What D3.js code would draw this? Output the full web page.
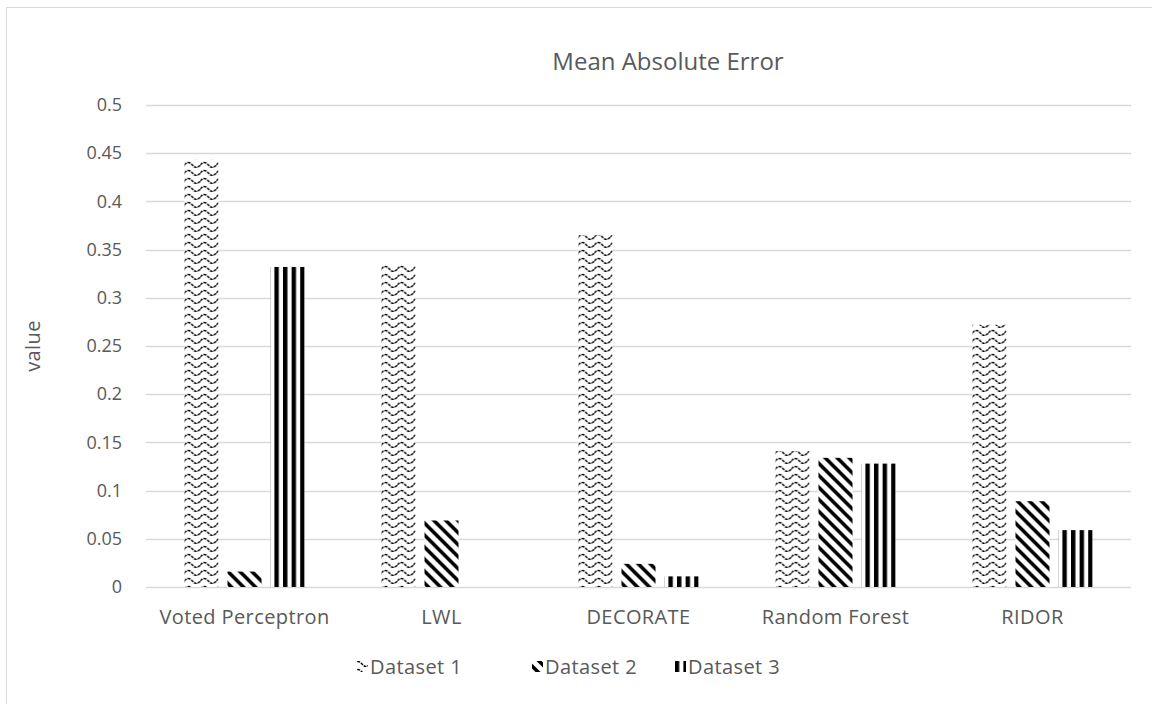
<!DOCTYPE html>
<meta charset="utf-8">
<style>
  body { margin: 0; background: #fff; }
  text { font-family: "Open Sans", Lato, sans-serif; fill: #595959; }
</style>
<svg id="chart" width="1152" height="704"></svg>
<script src="https://cdn.jsdelivr.net/npm/d3@7/dist/d3.min.js"></script>
<script>

var categories = ["Voted Perceptron", "LWL", "DECORATE", "Random Forest", "RIDOR"];
var seriesNames = ["Dataset 1", "Dataset 2", "Dataset 3"];
var dataset1 = [0.443, 0.335, 0.365, 0.141, 0.272];
var dataset2 = [0.016, 0.069, 0.024, 0.134, 0.089];
var dataset3 = [0.332, 0, 0.011, 0.128, 0.059];
var yTicks = [0, 0.05, 0.1, 0.15, 0.2, 0.25, 0.3, 0.35, 0.4, 0.45, 0.5];

var values = [dataset1, dataset2, dataset3];
var rows = categories.map(function(c, i) {
  return { cat: c, vals: seriesNames.map(function(s, j) { return { key: s, idx: j, v: values[j][i] }; }) };
});

var svg = d3.select("#chart");

// outer frame (only top/left visible)
svg.append("path")
    .attr("d", "M6.5,704 L6.5,7.5 L1152,7.5")
    .attr("fill", "none")
    .attr("stroke", "#d9d9d9")
    .attr("stroke-width", 1);

// patterns
var defs = svg.append("defs");
var p1 = defs.append("pattern").attr("id", "pat0")
    .attr("patternUnits", "userSpaceOnUse").attr("width", 16).attr("height", 8);
p1.append("rect").attr("width", 16).attr("height", 8).attr("fill", "#fff");
p1.append("path").attr("d", "M0,5 Q4,0 8,5 T16,5")
    .attr("fill", "none").attr("stroke", "#000").attr("stroke-width", 1.4)
    .attr("stroke-dasharray", "3,1");

var p2 = defs.append("pattern").attr("id", "pat1")
    .attr("patternUnits", "userSpaceOnUse").attr("width", 12).attr("height", 12);
p2.append("rect").attr("width", 12).attr("height", 12).attr("fill", "#fff");
p2.append("path").attr("d", "M-3,-3 L15,15 M-3,9 L3,15 M9,-3 L15,3")
    .attr("stroke", "#000").attr("stroke-width", 3.6);

var p3 = defs.append("pattern").attr("id", "pat2")
    .attr("patternUnits", "userSpaceOnUse").attr("width", 8.6).attr("height", 8)
    .attr("x", 4);
p3.append("rect").attr("width", 8.6).attr("height", 8).attr("fill", "#fff");
p3.append("rect").attr("x", 0).attr("width", 4.4).attr("height", 8).attr("fill", "#000");

var plotL = 146, plotR = 1131, plotT = 105, plotB = 587;

var x0 = d3.scaleBand().domain(categories).range([plotL, plotR])
    .paddingInner(0.39).paddingOuter(0.195);
var x1 = d3.scaleBand().domain(seriesNames).range([0, x0.bandwidth()]).paddingInner(0.21);
var y = d3.scaleLinear().domain([0, 0.5]).range([plotB, plotT]);

// gridlines
svg.append("g").selectAll("line").data(yTicks).enter().append("line")
    .attr("x1", plotL).attr("x2", plotR)
    .attr("y1", function(d) { return Math.round(y(d)) + 0.5; })
    .attr("y2", function(d) { return Math.round(y(d)) + 0.5; })
    .attr("stroke", "#d9d9d9").attr("stroke-width", 1.3);

// y axis labels
var yAxis = d3.axisLeft(y).tickValues(yTicks).tickSize(0).tickPadding(0)
    .tickFormat(function(d) { return d === 0 ? "0" : String(+d.toFixed(2)); });
var ya = svg.append("g").attr("transform", "translate(122,0)").call(yAxis);
ya.select(".domain").remove();
ya.selectAll("text").attr("font-size", 18).attr("fill", "#595959")
    .style("font-family", "'Open Sans', sans-serif");

// bars
var groups = svg.append("g").selectAll("g").data(rows).enter().append("g")
    .attr("transform", function(d) { return "translate(" + x0(d.cat) + ",0)"; });
groups.selectAll("rect").data(function(d) { return d.vals.filter(function(v) { return v.v > 0; }); })
  .enter().append("rect")
    .attr("x", function(d) { return x1(d.key); })
    .attr("width", x1.bandwidth())
    .attr("y", function(d) { return y(d.v); })
    .attr("height", function(d) { return plotB - y(d.v); })
    .attr("fill", function(d) { return "url(#pat" + d.idx + ")"; });

// x axis labels
var xAxis = d3.axisBottom(x0).tickSize(0).tickPadding(0);
var xa = svg.append("g").attr("transform", "translate(0,624)").call(xAxis);
xa.select(".domain").remove();
xa.selectAll("text").attr("dy", 0).attr("y", 0).attr("font-size", 20)
    .attr("letter-spacing", 0.4).attr("fill", "#595959")
    .style("font-family", "'Open Sans', sans-serif");

// title
svg.append("text").attr("x", 668).attr("y", 70).attr("text-anchor", "middle")
    .attr("font-size", 24).text("Mean Absolute Error");

// y label
svg.append("text").attr("transform", "translate(40,346) rotate(-90)")
    .attr("text-anchor", "middle").attr("font-size", 20).attr("letter-spacing", 0.4).text("value");

// legend
var legendX = [370, 545, 688];
var lg = svg.append("g").selectAll("g").data(seriesNames).enter().append("g")
    .attr("transform", function(d, i) { return "translate(" + legendX[i] + ",667)"; });
lg.append("rect").attr("x", -13).attr("y", -6).attr("width", 11).attr("height", 11)
    .attr("fill", function(d, i) { return "url(#pat" + i + ")"; });
lg.append("text").attr("x", 0).attr("y", 7).attr("font-size", 20)
    .attr("letter-spacing", 0.4).text(function(d) { return d; });

</script>
